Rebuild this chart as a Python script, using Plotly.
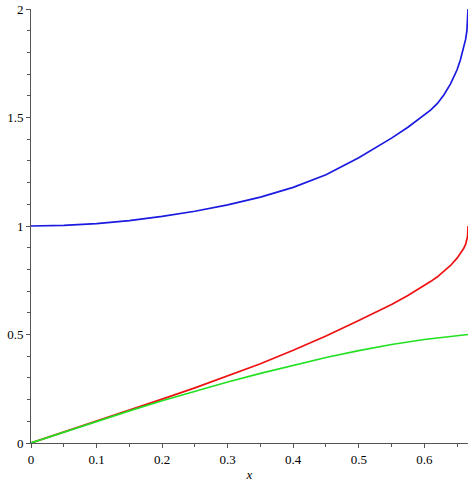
import plotly.graph_objects as go

x_vals = [0, 0.05, 0.1, 0.15, 0.2, 0.25, 0.3, 0.35, 0.4, 0.45, 0.5, 0.525,
          0.55, 0.575, 0.6, 0.61, 0.62, 0.63, 0.64, 0.65, 0.655, 0.66,
          0.663, 0.665, 0.666, 0.6667]
blue_vals = [1.0, 1.003, 1.011, 1.025, 1.044, 1.068, 1.097, 1.133, 1.178, 1.236,
             1.315, 1.358, 1.405, 1.455, 1.51, 1.535, 1.565, 1.605, 1.655, 1.72,
             1.765, 1.82, 1.86, 1.9, 1.94, 2.0]
red_vals = [0.0, 0.05, 0.1, 0.151, 0.202, 0.254, 0.308, 0.365, 0.427, 0.493,
            0.565, 0.600, 0.638, 0.680, 0.725, 0.745, 0.766, 0.790, 0.818,
            0.852, 0.872, 0.896, 0.915, 0.933, 0.952, 1.0]
green_x = [0, 0.05, 0.1, 0.15, 0.2, 0.25, 0.3, 0.35, 0.4, 0.45, 0.5, 0.55,
           0.6, 0.65, 0.6667]
green_vals = [0.0, 0.05, 0.099, 0.148, 0.195, 0.239, 0.281, 0.321, 0.359,
              0.394, 0.426, 0.454, 0.477, 0.494, 0.5]

x_ticks = [0, 0.1, 0.2, 0.3, 0.4, 0.5, 0.6]
x_tick_text = ["0", "0.1", "0.2", "0.3", "0.4", "0.5", "0.6"]
y_ticks = [0, 0.5, 1, 1.5, 2]
y_tick_text = ["0", "0.5", "1", "1.5", "2"]

fig = go.Figure()
fig.add_trace(go.Scatter(x=x_vals, y=blue_vals, mode="lines",
                         line=dict(color="#1a1ae0", width=1.7)))
fig.add_trace(go.Scatter(x=x_vals, y=red_vals, mode="lines",
                         line=dict(color="#ee1111", width=1.7)))
fig.add_trace(go.Scatter(x=green_x, y=green_vals, mode="lines",
                         line=dict(color="#22e022", width=1.7)))

serif = "Liberation Serif, Times New Roman, serif"
fig.update_layout(
    width=474, height=485,
    margin=dict(l=31, r=6, t=9, b=42),
    paper_bgcolor="white", plot_bgcolor="white",
    showlegend=False,
    font=dict(family=serif, size=13, color="black"),
    xaxis=dict(range=[0, 2/3], tickvals=x_ticks, ticktext=x_tick_text,
               automargin=False,
               tickfont=dict(family=serif, size=13, color="black"),
               showgrid=False, zeroline=False, showline=True, linecolor="#555555",
               linewidth=1, ticks="outside", ticklen=4, tickcolor="#555555",
               minor=dict(dtick=0.05, ticks="outside", ticklen=3, tickcolor="#555555"),
               title=dict(text="<i>x</i>", font=dict(family=serif, size=13),
                          standoff=4)),
    yaxis=dict(range=[0, 2], tickvals=y_ticks, ticktext=y_tick_text,
               automargin=False,
               tickfont=dict(family=serif, size=13, color="black"),
               showgrid=False, zeroline=False, showline=True, linecolor="#555555",
               linewidth=1, ticks="outside", ticklen=4, tickcolor="#555555",
               minor=dict(dtick=0.1, ticks="outside", ticklen=3, tickcolor="#555555")),
)
fig.write_html("out.html", config={"displayModeBar": False},
               post_script="document.body.style.margin='0';document.body.style.overflow='hidden';")
